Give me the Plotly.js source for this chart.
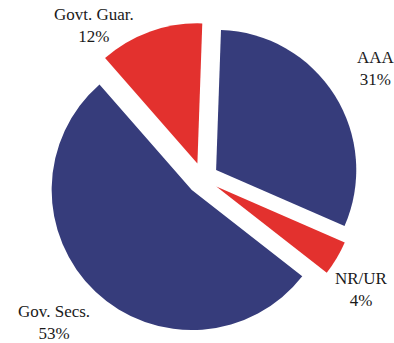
<!DOCTYPE html>
<html>
<head>
<meta charset="utf-8">
<script src="https://cdn.plot.ly/plotly-3.0.1.min.js"></script>
<style>html,body{margin:0;padding:0;background:#fff;}#chart{width:394px;height:343px;}</style>
</head>
<body>
<div id="chart"></div>
<script>
const labels = ["AAA", "NR/UR", "Gov. Secs.", "Govt. Guar."];
const values = [31, 4, 53, 12];
const colors = ["#363c7b", "#e3312e", "#363c7b", "#e3312e"];

// label block centres in pixels (layout positions only)
const labelPos = [[376, 68], [361, 289], [54, 322], [94, 25]];
const W = 394, H = 343;

const trace = {
  type: "pie",
  labels: labels,
  values: values,
  sort: false,
  direction: "clockwise",
  rotation: 2,
  pull: 0.113,
  marker: { colors: colors, line: { width: 0 } },
  textinfo: "none",
  hoverinfo: "label+percent",
  showlegend: false,
  domain: { x: [46.7 / W, 358.7 / W], y: [1 - 334.4 / H, 1 - 22.4 / H] }
};

const annotations = labels.map((l, i) => ({
  xref: "paper", yref: "paper",
  x: labelPos[i][0] / W, y: 1 - labelPos[i][1] / H,
  xanchor: "center", yanchor: "middle",
  showarrow: false,
  text: l + "<br>" + values[i] + "%",
  font: { family: "Liberation Serif, serif", size: 17, color: "#1a1a1a" }
}));

Plotly.newPlot("chart", [trace], {
  width: W, height: H,
  margin: { l: 0, r: 0, t: 0, b: 0 },
  paper_bgcolor: "#fff",
  annotations: annotations
}, { displayModeBar: false, staticPlot: true });
</script>
</body>
</html>
